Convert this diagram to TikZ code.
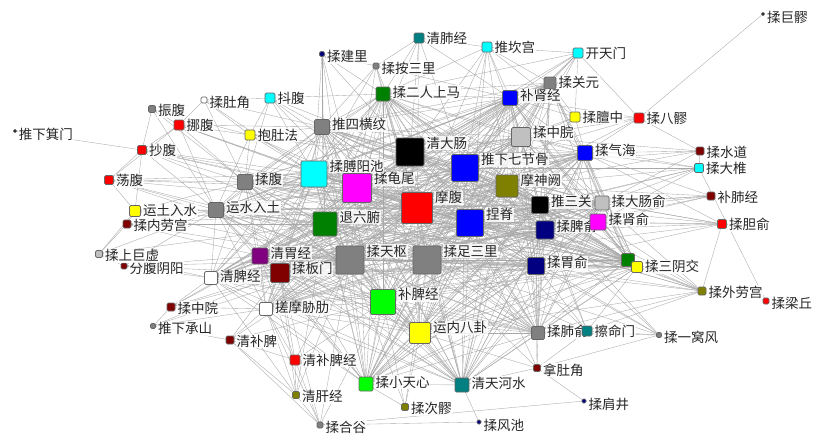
\documentclass[tikz,border=0pt]{standalone}
\usepackage{fontspec}
\newfontfamily\cjk{Noto Sans CJK SC}
\usetikzlibrary{backgrounds}
\definecolor{cRed}{HTML}{FF0000}
\definecolor{cCyan}{HTML}{00FFFF}
\definecolor{cMagenta}{HTML}{FF00FF}
\definecolor{cBlue}{HTML}{0000FF}
\definecolor{cNavy}{HTML}{000080}
\definecolor{cMaroon}{HTML}{800000}
\definecolor{cGreen}{HTML}{008000}
\definecolor{cLime}{HTML}{00FF00}
\definecolor{cOlive}{HTML}{808000}
\definecolor{cTeal}{HTML}{008080}
\definecolor{cPurple}{HTML}{800080}
\definecolor{cGray}{HTML}{808080}
\definecolor{cSilver}{HTML}{C0C0C0}
\definecolor{cYellow}{HTML}{FFFF00}
\newcommand\nd[6]{\node[bx,minimum size=#4pt,fill=#5,label={[lb]north east:#6}] (#1) at (#2,#3) {};}
\begin{document}
\begin{tikzpicture}[x=1pt,y=-1pt,
  bx/.style={draw=black!60,line width=0.6pt,rounded corners=1.4pt,inner sep=0pt,outer sep=0pt},
  lb/.style={anchor=north west,inner sep=0.8pt,xshift=1.5pt,yshift=2pt,fill=white,fill opacity=0.8,text opacity=1,font=\cjk\fontsize{13.5}{14}\selectfont,text=black!85},
  ed/.style={draw=black!34,line width=0.35pt}]
\useasboundingbox (0,0) rectangle (815,437);
% nodes
\nd{jul}{763}{14}{3}{black}{揉巨髎}
\nd{fei}{419}{38}{10}{cTeal}{清肺经}
\nd{kan}{487}{47}{10}{cCyan}{推坎宫}
\nd{tian}{578}{53}{10}{cCyan}{开天门}
\nd{jian}{322}{54}{5}{cNavy}{揉建里}
\nd{ans}{376}{66}{6}{cGray}{揉按三里}
\nd{guan}{550}{83}{12}{cGray}{揉关元}
\nd{erm}{383}{94}{14}{cGreen}{揉二人上马}
\nd{bsj}{510}{98}{15}{cBlue}{补肾经}
\nd{dan}{575}{117}{10}{cYellow}{揉膻中}
\nd{bal}{639}{118}{10}{cRed}{揉八髎}
\nd{shd}{700}{151}{8}{cMaroon}{揉水道}
\nd{dzh}{699}{168}{9}{cCyan}{揉大椎}
\nd{bfj}{711}{196}{8}{cMaroon}{补肺经}
\nd{dy}{722}{224}{9}{cRed}{揉胆俞}
\nd{qh}{585}{153}{15}{cBlue}{揉气海}
\nd{zw}{521}{137}{19}{cSilver}{揉中脘}
\nd{qdc}{410}{152}{28}{black}{清大肠}
\nd{tqj}{465}{168}{27}{cBlue}{推下七节骨}
\nd{msq}{507}{186}{22}{cOlive}{摩神阙}
\nd{dcs}{602}{203}{14}{cSilver}{揉大肠俞}
\nd{tsg}{540}{205}{17}{black}{推三关}
\nd{ps}{545}{230}{18}{cNavy}{揉脾俞}
\nd{shs}{598}{222}{16}{cMagenta}{揉肾俞}
\nd{ws}{536}{266}{17}{cNavy}{揉胃俞}
\nd{zsl}{427}{260}{28}{cGray}{揉足三里}
\nd{tsh}{350}{260}{28}{cGray}{揉天枢}
\nd{mf}{417}{208}{31}{cRed}{摩腹}
\nd{nj}{470}{223}{27}{cBlue}{捏脊}
\nd{gw}{357}{188}{29}{cMagenta}{揉龟尾}
\nd{byc}{314}{174}{26}{cCyan}{揉膊阳池}
\nd{tlf}{325}{224}{24}{cGreen}{退六腑}
\nd{qwj}{260}{256}{16}{cPurple}{清胃经}
\nd{bm}{280}{273}{19}{cMaroon}{揉板门}
\nd{qpj}{211}{278}{13}{white}{清脾经}
\nd{bpj}{383}{302}{25}{cLime}{补脾经}
\nd{nbg}{420}{333}{21}{cYellow}{运内八卦}
\nd{cm}{266}{309}{13}{white}{搓摩胁肋}
\nd{qbp}{230}{340}{8}{cMaroon}{清补脾}
\nd{qbpj}{295}{360}{10}{cRed}{清补脾经}
\nd{xtx}{366}{384}{14}{cLime}{揉小天心}
\nd{thh}{462}{385}{14}{cTeal}{清天河水}
\nd{cl}{405}{407}{7}{cOlive}{揉次髎}
\nd{hg}{320}{425}{6}{cGray}{揉合谷}
\nd{gj}{296}{395}{7}{cOlive}{清肝经}
\nd{fc}{479}{422}{4}{cNavy}{揉风池}
\nd{jj}{584}{401}{4}{cNavy}{揉肩井}
\nd{ndj}{537}{368}{7}{cMaroon}{拿肚角}
\nd{fs}{538}{333}{13}{cGray}{揉肺俞}
\nd{mm}{587}{331}{10}{cTeal}{擦命门}
\nd{ywf}{659}{335}{5}{cGray}{揉一窝风}
\nd{wlg}{702}{291}{8}{cOlive}{揉外劳宫}
\nd{lq}{766}{301}{6}{cRed}{揉梁丘}
\node[bx,minimum size=13pt,fill=cGreen] (grn) at (628,260) {};
\nd{syj}{637}{267}{11}{cYellow}{揉三阴交}
\nd{zf}{152}{109}{7}{cGray}{振腹}
\nd{dj}{204}{100}{6}{white}{揉肚角}
\nd{df}{270}{98}{10}{cCyan}{抖腹}
\nd{nf}{179}{125}{10}{cRed}{挪腹}
\nd{bdf}{250}{135}{10}{cYellow}{抱肚法}
\nd{shw}{322}{127}{15}{cGray}{推四横纹}
\nd{jm}{15}{131}{3}{black}{推下箕门}
\nd{cf}{142}{150}{9}{cRed}{抄腹}
\nd{dgf}{109}{180}{9}{cRed}{荡腹}
\nd{rf}{245}{182}{15}{cGray}{揉腹}
\nd{ytr}{135}{211}{11}{cYellow}{运土入水}
\nd{ysr}{216}{210}{15}{cGray}{运水入土}
\nd{nlg}{127}{224}{8}{cMaroon}{揉内劳宫}
\nd{fy}{124}{266}{6}{cMaroon}{分腹阴阳}
\nd{sjx}{99}{254}{7}{cSilver}{揉上巨虚}
\nd{zy}{171}{307}{8}{cMaroon}{揉中院}
\nd{cs}{153}{326}{5}{cGray}{推下承山}
% edges
\def\hubs{mf,qdc,tqj,nj,gw,byc,tlf,tsh,zsl,bpj,nbg,msq}
\def\secs{tsg,zw,ps,ws,bsj,bm,qwj,qh,shw,rf,ysr,erm,shs,dcs,qpj,cm,fs,syj,grn,guan,thh,xtx}
\begin{pgfonlayer}{background}
\fill[white] (0,0) rectangle (815,437);
\foreach \a [count=\i] in \hubs {
  \foreach \b [count=\j] in \hubs {
    \ifnum\j>\i \draw[ed] (\a) -- (\b); \fi
  }
}
\foreach \a in \secs {
  \foreach \b in \hubs { \draw[ed] (\a) -- (\b); }
}
\foreach \a [count=\i] in \secs {
  \foreach \b [count=\j] in \secs {
    \ifnum\j>\i \draw[ed] (\a) -- (\b); \fi
  }
}
\foreach \a/\l in {
  jul/{bal},
  jm/{cf},
  lq/{dzh},
  fc/{thh,hg},
  jj/{ndj,hg},
  hg/{gj,qbpj,cm,bm,tsh,qbp,bpj},
  gj/{qbpj,qbp,cm,tlf,bm,qpj,tsh},
  cl/{xtx,bpj,nbg,tsh,zsl},
  ywf/{fs,mm,ws,zsl,nj,ndj,tsg,ps},
  wlg/{ps,ws,shs,dcs,syj,fs,zsl,nbg,nj,mf,msq,grn},
  dy/{shs,dcs,ps,tsg,msq,nj,zsl,wlg,ws,qh},
  bfj/{dcs,shs,ps,tsg,qh,nj,msq},
  dzh/{qh,dcs,shs,tsg,nj,tqj,msq,zw},
  shd/{bal,qh,zw,tqj,msq,dcs,dzh},
  bal/{dan,tian,qh,zw,tqj,msq,bsj},
  dan/{zw,qh,bsj,tqj,msq,guan,kan,tian},
  tian/{kan,bsj,zw,guan,qdc,tqj,msq,mf,erm},
  kan/{fei,erm,bsj,zw,qdc,tqj,msq,mf,nj,guan},
  fei/{ans,erm,qdc,tqj,mf,bsj,gw},
  jian/{ans,erm,byc,shw,tlf,gw,qdc,tsh},
  ans/{erm,qdc,gw,byc,shw,mf,bsj},
  df/{dj,erm,shw,byc,bdf,gw,rf,mf,qdc},
  dj/{nf,bdf,shw,rf,byc},
  zf/{nf,cf,rf,bdf,ysr},
  nf/{cf,dgf,rf,bdf,shw,byc,ysr,gw,mf},
  bdf/{shw,rf,byc,gw,mf,ysr,qdc,tqj},
  cf/{dgf,ytr,rf,ysr,byc,gw,mf,tlf,nj},
  dgf/{ytr,rf,ysr,byc,gw,mf,tsh,zsl},
  ytr/{nlg,ysr,rf,sjx,tlf,mf,tsh},
  nlg/{sjx,ysr,qwj,tlf,tsh,mf},
  sjx/{fy,ysr,qpj,tlf},
  fy/{ysr,qpj,qwj,bm,tsh},
  zy/{qpj,cm,bm,qwj,cs,tsh,tlf},
  cs/{cm,qbp,bm,tsh},
  qbp/{cm,qbpj,bm,tsh,bpj},
  qbpj/{cm,bm,qwj,tsh,bpj},
  ndj/{fs,mm,ws,zsl,nbg,thh,nj},
  mm/{fs,ws,ps,syj,zsl,nj,wlg,tsg}}
  { \foreach \b in \l { \draw[ed] (\a) -- (\b); } }
\end{pgfonlayer}
\end{tikzpicture}
\end{document}
